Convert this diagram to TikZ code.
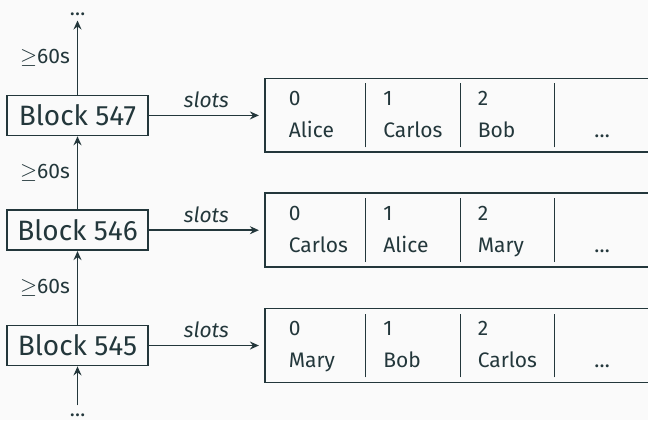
\documentclass[tikz,border=0pt]{standalone}
\usepackage{fontspec}
\setmainfont{Fira Sans}
\usepackage{array}
\usepackage{tikz}
\usetikzlibrary{arrows.meta, positioning}
\definecolor{DarkTeal}{HTML}{23373B}
\definecolor{LightBg}{HTML}{FAFAFA}
\setlength{\tabcolsep}{8.5pt}
\setlength{\arrayrulewidth}{0.5pt}
\renewcommand{\arraystretch}{1.33}

\begin{document}
\begin{tikzpicture}[>={Stealth[length=4.5pt, width=4pt, inset=1.5pt]}, node distance=36.5pt, color=DarkTeal, text=DarkTeal]
    \tikzstyle{block}     = [rectangle, draw=DarkTeal, line width=0.9pt, minimum width=70.5pt, minimum height=20pt, inner sep=0pt, font=\fontsize{14}{16}\selectfont]
    \tikzstyle{slottable} = [rectangle, draw=DarkTeal, line width=0.9pt, inner xsep=3.5pt, inner ysep=2.5pt, font=\fontsize{10.5}{12}\selectfont]
    \tikzstyle{dots}      = [inner sep=0pt, font=\fontsize{10.5}{12}\selectfont]
    \tikzstyle{lbl}       = [font=\fontsize{10.5}{12}\selectfont]
    \tikzstyle{link}      = [->, line width=0.9pt]

    % Frame
    \path[use as bounding box, fill=LightBg] (0,0) rectangle (324pt,-210pt);

    % Chain of blocks
    \node[block] (b545) at (38.75pt,-172.75pt) {Block 545};
    \node[block, above=36.75pt of b545] (b546) {Block 546};
    \node[block, above=36.5pt of b546] (b547) {Block 547};
    \coordinate[above=37pt of b547] (upend);
    \node[dots, above=2pt of upend] (up) {\dots};
    \coordinate[below=19.5pt of b545] (downend);
    \node[dots, below=4pt of downend] (down) {\dots};

    % Slot tables
    \node[slottable, right=57.5pt of b547] (t547) {%
        \begin{tabular}{p{29.75pt}|p{29.75pt}|p{29.75pt}|>{\centering\arraybackslash}p{29.75pt}}
        0 & 1 & 2 & \\
        Alice & Carlos & Bob & \dots
        \end{tabular}};
    \node[slottable, right=57.5pt of b546] (t546) {%
        \begin{tabular}{p{29.75pt}|p{29.75pt}|p{29.75pt}|>{\centering\arraybackslash}p{29.75pt}}
        0 & 1 & 2 & \\
        Carlos & Alice & Mary & \dots
        \end{tabular}};
    \node[slottable, right=57.5pt of b545] (t545) {%
        \begin{tabular}{p{29.75pt}|p{29.75pt}|p{29.75pt}|>{\centering\arraybackslash}p{29.75pt}}
        0 & 1 & 2 & \\
        Mary & Bob & Carlos & \dots
        \end{tabular}};

    % Arrows
    \draw[link] (downend) -- (b545);
    \draw[link] (b545) -- node[lbl, midway, left] {$\geq$60s} (b546);
    \draw[link] (b546) -- node[lbl, midway, left] {$\geq$60s} (b547);
    \draw[link] (b547) -- node[lbl, midway, left] {$\geq$60s} (upend);
    \draw[link, shorten >=2.5pt] (b547) -- node[lbl, midway, above] {\itshape slots} (t547);
    \draw[link, shorten >=2.5pt] (b546) -- node[lbl, midway, above] {\itshape slots} (t546);
    \draw[link, shorten >=2.5pt] (b545) -- node[lbl, midway, above] {\itshape slots} (t545);
\end{tikzpicture}
\end{document}
